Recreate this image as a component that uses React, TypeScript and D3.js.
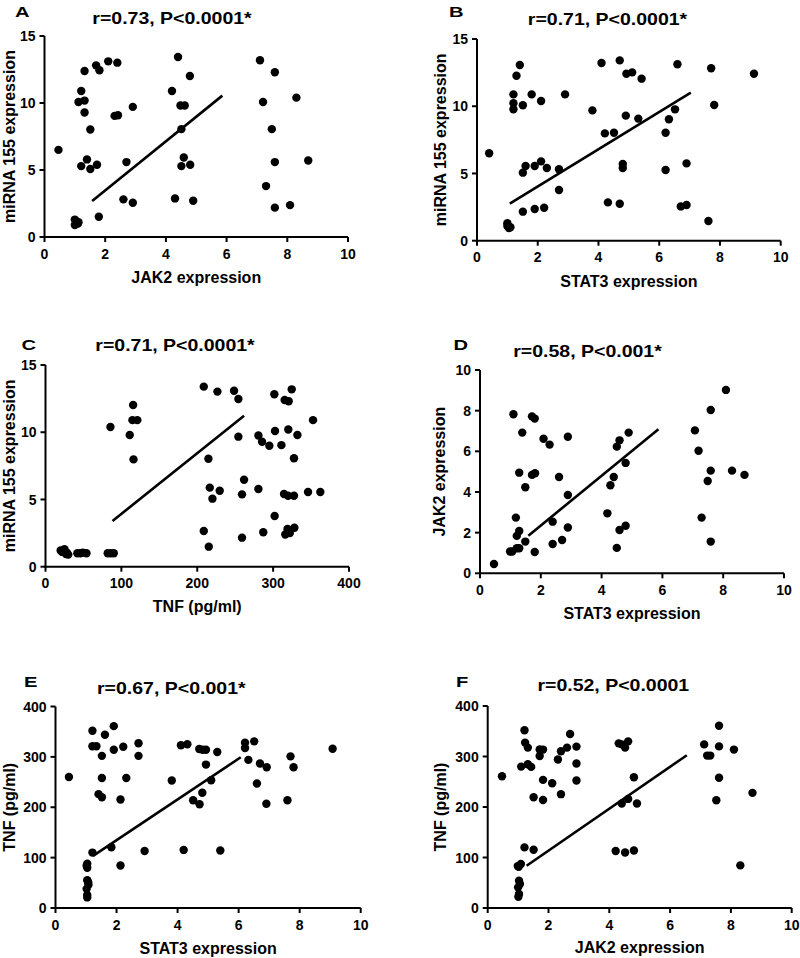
import React from 'react';
import * as d3 from 'd3';

// ---------- DATA ----------
const pointsA: [number, number][] = [
  [0.46, 6.5], [1.21, 10.9], [1.12, 10.08], [1.32, 10.18], [1.32, 9.29], [1.32, 12.39],
  [1.7, 12.81], [1.81, 12.44], [2.1, 13.11], [2.4, 13.01], [1.51, 8.02], [1.4, 5.79],
  [1.21, 5.29], [1.51, 5.07], [1.73, 5.39], [2.31, 9.04], [2.42, 9.09], [2.91, 9.71],
  [2.7, 5.59], [2.6, 2.81], [2.91, 2.56], [1.79, 1.51], [1.0, 1.3], [1.05, 1.1],
  [1.1, 1.0], [1.0, 0.9], [1.12, 1.1], [4.4, 13.43], [4.2, 10.9], [4.48, 9.81],
  [4.62, 9.81], [4.79, 12.02], [4.51, 8.05], [4.59, 5.93], [4.51, 5.29], [4.8, 5.39],
  [4.3, 2.88], [4.9, 2.71], [7.1, 13.19], [7.59, 12.29], [7.2, 10.08], [8.3, 10.4],
  [7.49, 8.05], [7.59, 5.59], [8.69, 5.71], [7.3, 3.8], [7.59, 2.19], [8.09, 2.38],
];
const lineA: [number, number][] = [[1.57, 2.68], [5.86, 10.55]];

const pointsB: [number, number][] = [
  [0.4, 6.5], [1.0, 1.3], [1.0, 1.1], [1.05, 0.95], [1.1, 1.0], [1.41, 13.07],
  [1.3, 12.27], [1.2, 10.88], [1.2, 10.22], [1.2, 9.77], [1.51, 10.07], [1.8, 10.88],
  [2.11, 10.39], [1.51, 5.06], [1.6, 5.55], [1.9, 5.55], [2.11, 5.9], [2.3, 5.41],
  [2.7, 5.31], [2.7, 3.77], [1.51, 2.16], [1.9, 2.36], [2.21, 2.45], [2.9, 10.88],
  [3.8, 9.69], [4.1, 13.22], [4.7, 13.41], [4.92, 12.42], [5.11, 12.52], [5.42, 12.05],
  [4.21, 7.98], [4.51, 8.03], [4.9, 9.3], [5.31, 9.08], [4.8, 5.7], [4.8, 5.41],
  [4.31, 2.85], [4.7, 2.75], [6.6, 13.12], [6.52, 9.77], [6.32, 9.03], [6.21, 8.03],
  [6.21, 5.26], [6.9, 5.75], [6.71, 2.55], [6.9, 2.65], [7.71, 12.82], [7.81, 10.09],
  [7.62, 1.46], [9.12, 12.42],
];
const lineB: [number, number][] = [[1.08, 2.75], [7.04, 11.01]];

const pointsC: [number, number][] = [
  [20, 1.2], [22, 1.1], [25, 1.3], [27, 0.95], [28, 1.05], [30, 0.9], [42, 1.0],
  [46, 1.0], [49, 1.05], [54, 1.0], [82, 1.0], [86, 1.0], [90, 1.0],
  [85.6, 10.39], [111, 9.79], [115.5, 12.03], [114.6, 10.9], [121, 10.9], [116, 7.98],
  [208.6, 13.39], [226.6, 13.02], [248.5, 13.09], [254.2, 12.47], [254.2, 9.67],
  [214.7, 8.03], [216.5, 5.88], [220, 5.06], [229.6, 5.65], [208.6, 2.65], [215.2, 1.49],
  [261.7, 6.47], [259, 5.38], [259, 2.16], [280.6, 9.76], [285.4, 9.29], [295, 8.99],
  [310.9, 9.04], [302.5, 10.09], [320, 10.2], [332, 9.79], [301.6, 12.82], [324.5, 13.19],
  [315.2, 12.4], [320.5, 12.3], [327.5, 8.06], [352.6, 10.9], [280.6, 5.78], [302, 3.77],
  [314.4, 5.41], [319.7, 5.28], [327.5, 5.28], [346, 5.55], [362.2, 5.55], [287, 2.56],
  [316, 2.4], [319, 2.8], [322, 2.5], [328, 2.9],
];
const lineC: [number, number][] = [[88.3, 3.4], [261.7, 11.23]];

const pointsD: [number, number][] = [
  [0.46, 0.46], [0.99, 1.07], [1.06, 1.07], [1.21, 1.23], [1.29, 1.23], [1.1, 7.82],
  [1.18, 2.74], [1.21, 1.84], [1.29, 2.08], [1.49, 1.56], [1.39, 6.92], [1.29, 4.95],
  [1.49, 4.23], [1.71, 7.72], [1.8, 7.61], [1.71, 4.84], [1.81, 4.92], [1.8, 1.05],
  [2.09, 6.62], [2.29, 6.33], [2.39, 2.54], [2.39, 1.44], [2.6, 4.74], [2.7, 1.64],
  [2.89, 6.72], [2.89, 3.85], [2.89, 2.25], [4.19, 2.95], [4.29, 4.33], [4.4, 4.74],
  [4.5, 6.23], [4.59, 6.54], [4.89, 6.92], [4.79, 5.43], [4.5, 1.25], [4.59, 2.13],
  [4.79, 2.34], [7.07, 7.03], [7.19, 6.03], [7.59, 8.03], [8.09, 9.02], [7.59, 5.05],
  [7.49, 4.54], [8.29, 5.05], [8.7, 4.84], [7.29, 2.74], [7.59, 1.56],
];
const lineD: [number, number][] = [[1.59, 1.85], [5.87, 7.08]];

const pointsE: [number, number][] = [
  [0.44, 260], [1.02, 84], [1.04, 88], [1.04, 80], [1.07, 51], [1.04, 55], [1.08, 46],
  [1.02, 38], [1.04, 26], [1.04, 21], [1.21, 110], [1.21, 352], [1.21, 321], [1.34, 321],
  [1.62, 344], [1.91, 361], [1.52, 302], [1.91, 314], [2.22, 320], [1.52, 258],
  [1.41, 226], [1.52, 220], [2.13, 215.5], [2.32, 258], [2.72, 327], [2.72, 302],
  [1.83, 120.6], [2.13, 84.3], [2.92, 113.3], [3.81, 253], [4.11, 323], [4.32, 325],
  [4.71, 315.6], [4.82, 314], [4.93, 314], [5.3, 309.7], [4.93, 284.7], [5.1, 253.7],
  [4.51, 214], [4.72, 206], [4.81, 228.7], [4.2, 115.3], [5.4, 114], [6.21, 328],
  [6.21, 317.6], [6.51, 330.8], [6.32, 294], [6.7, 286.7], [6.92, 279.4], [6.6, 247],
  [6.91, 207], [7.6, 214], [7.7, 301], [7.8, 279.4], [9.08, 316],
];
const lineE: [number, number][] = [[1.23, 103.5], [6.07, 299.2]];

const pointsF: [number, number][] = [
  [0.47, 261], [0.99, 83], [1.09, 87], [1.03, 54], [1.06, 47.4], [1.0, 40.9], [1.03, 27.7],
  [1.01, 22.4], [1.02, 81.7], [1.21, 120], [1.51, 115.3], [1.21, 352], [1.23, 327.5],
  [1.32, 317.6], [1.32, 284.7], [1.43, 279.4], [1.1, 280], [1.51, 219.4], [1.82, 214],
  [1.82, 253.7], [1.71, 314], [1.71, 301], [1.82, 313.7], [2.12, 247], [2.31, 294],
  [2.41, 310.4], [2.61, 317.6], [2.71, 344.6], [2.41, 225.4], [2.92, 319.6], [2.92, 286],
  [2.92, 252.4], [4.31, 326], [4.41, 324], [4.62, 330], [4.52, 317.6], [4.81, 259],
  [4.41, 207], [4.62, 216], [4.91, 207], [4.21, 113], [4.52, 110], [4.81, 114],
  [7.12, 324], [7.22, 301.8], [7.32, 301.8], [7.61, 361], [7.61, 320], [8.1, 313.7],
  [7.61, 258], [7.52, 213.5], [8.71, 228], [8.31, 84.4],
];
const lineF: [number, number][] = [[1.28, 83.7], [6.55, 302.5]];

const ticksExpr = [0, 2, 4, 6, 8, 10];
const ticksMiRNA = [0, 5, 10, 15];
const ticksTNFx = [0, 100, 200, 300, 400];
const ticksTNFy = [0, 100, 200, 300, 400];
const ticksJAK2y = [0, 2, 4, 6, 8, 10];

const panelLetters = ['A', 'B', 'C', 'D', 'E', 'F'];
const panelTitles = [
  'r=0.73, P<0.0001*',
  'r=0.71, P<0.0001*',
  'r=0.71, P<0.0001*',
  'r=0.58, P<0.001*',
  'r=0.67, P<0.001*',
  'r=0.52, P<0.0001',
];
const xTitles = ['JAK2 expression', 'STAT3 expression', 'TNF (pg/ml)', 'STAT3 expression', 'STAT3 expression', 'JAK2 expression'];
const yTitles = ['miRNA 155 expression', 'miRNA 155 expression', 'miRNA 155 expression', 'JAK2 expression', 'TNF (pg/ml)', 'TNF (pg/ml)'];

// ---------- LAYOUT ----------
const FONT = '"Liberation Sans", Arial, Helvetica, sans-serif';

type Layout = {
  left: number; right: number; top: number; bottom: number;
  titleX: number; titleY: number; letterX: number; letterY: number;
  yTitleX: number; xTitleDy: number;
};

const layouts: Layout[] = [
  { left: 44.5, right: 348, top: 36, bottom: 237, titleX: 172, titleY: 24, letterX: 15, letterY: 17, yTitleX: 14.5, xTitleDy: 45.5 },
  { left: 477, right: 780.7, top: 39, bottom: 240.7, titleX: 607.5, titleY: 25, letterX: 449, letterY: 17, yTitleX: 446, xTitleDy: 46.5 },
  { left: 45.5, right: 349, top: 365, bottom: 566.7, titleX: 175, titleY: 351, letterX: 21.5, letterY: 350, yTitleX: 14.5, xTitleDy: 45 },
  { left: 480, right: 784, top: 370, bottom: 573.3, titleX: 587.5, titleY: 356.5, letterX: 453.5, letterY: 350, yTitleX: 444.5, xTitleDy: 45.5 },
  { left: 55.5, right: 360.7, top: 706.5, bottom: 908, titleX: 171.3, titleY: 693.5, letterX: 24, letterY: 687, yTitleX: 15, xTitleDy: 45.5 },
  { left: 487.7, right: 791.7, top: 706, bottom: 908, titleX: 613.3, titleY: 691, letterX: 456, letterY: 687, yTitleX: 445.5, xTitleDy: 45 },
];

type PanelDef = {
  points: [number, number][];
  line: [number, number][];
  xDomain: [number, number];
  yDomain: [number, number];
  xTicks: number[];
  yTicks: number[];
};

const panelDefs: PanelDef[] = [
  { points: pointsA, line: lineA, xDomain: [0, 10], yDomain: [0, 15], xTicks: ticksExpr, yTicks: ticksMiRNA },
  { points: pointsB, line: lineB, xDomain: [0, 10], yDomain: [0, 15], xTicks: ticksExpr, yTicks: ticksMiRNA },
  { points: pointsC, line: lineC, xDomain: [0, 400], yDomain: [0, 15], xTicks: ticksTNFx, yTicks: ticksMiRNA },
  { points: pointsD, line: lineD, xDomain: [0, 10], yDomain: [0, 10], xTicks: ticksExpr, yTicks: ticksJAK2y },
  { points: pointsE, line: lineE, xDomain: [0, 10], yDomain: [0, 400], xTicks: ticksExpr, yTicks: ticksTNFy },
  { points: pointsF, line: lineF, xDomain: [0, 10], yDomain: [0, 400], xTicks: ticksExpr, yTicks: ticksTNFy },
];

const TICK = 5;
const AXIS_W = 2;

function Panel({ i }: { i: number }) {
  const L = layouts[i];
  const P = panelDefs[i];
  const x = d3.scaleLinear().domain(P.xDomain).range([L.left, L.right]);
  const y = d3.scaleLinear().domain(P.yDomain).range([L.bottom, L.top]);
  const lineGen = d3.line<[number, number]>().x(d => x(d[0])).y(d => y(d[1]));
  const x0 = x(P.xDomain[0]);
  const y0 = y(P.yDomain[0]);
  return (
    <g fontFamily={FONT} fontWeight="bold" fill="#000">
      <line x1={x0} x2={x0} y1={y(P.yDomain[1])} y2={y0 + AXIS_W / 2} stroke="#000" strokeWidth={AXIS_W} />
      <line x1={x0 - AXIS_W / 2} x2={x(P.xDomain[1])} y1={y0} y2={y0} stroke="#000" strokeWidth={AXIS_W} />
      {P.yTicks.map(t => (
        <g key={'yt' + t}>
          <line x1={x0 - TICK} x2={x0} y1={y(t)} y2={y(t)} stroke="#000" strokeWidth={AXIS_W} />
          <text x={x0 - TICK - 4} y={y(t)} dy="0.36em" textAnchor="end" fontSize={14}>{t}</text>
        </g>
      ))}
      {P.xTicks.map(t => (
        <g key={'xt' + t}>
          <line x1={x(t)} x2={x(t)} y1={y0} y2={y0 + TICK} stroke="#000" strokeWidth={AXIS_W} />
          <text x={x(t)} y={y0 + 21.5} textAnchor="middle" fontSize={14}>{t}</text>
        </g>
      ))}
      <path d={lineGen(P.line) || ''} fill="none" stroke="#000" strokeWidth={2.6} />
      {P.points.map((d, k) => (
        <circle key={k} cx={x(d[0])} cy={y(d[1])} r={4.2} fill="#000" />
      ))}
      <text transform={`translate(${L.titleX},${L.titleY}) scale(1.22,1)`} textAnchor="middle" fontSize={16}>{panelTitles[i]}</text>
      <text transform={`translate(${L.letterX},${L.letterY}) scale(1.3,1)`} fontSize={15.5}>{panelLetters[i]}</text>
      <text x={(L.left + L.right) / 2} y={L.bottom + L.xTitleDy} textAnchor="middle" fontSize={16}>{xTitles[i]}</text>
      <text transform={`translate(${L.yTitleX},${(L.top + L.bottom) / 2}) rotate(-90)`} textAnchor="middle" fontSize={16}>{yTitles[i]}</text>
    </g>
  );
}

export default function App() {
  return (
    <svg width={800} height={958} style={{ position: 'absolute', left: 0, top: 0, background: '#fff' }}>
      <rect x={0} y={0} width={800} height={958} fill="#fff" />
      {panelLetters.map((_, i) => <Panel key={i} i={i} />)}
    </svg>
  );
}
